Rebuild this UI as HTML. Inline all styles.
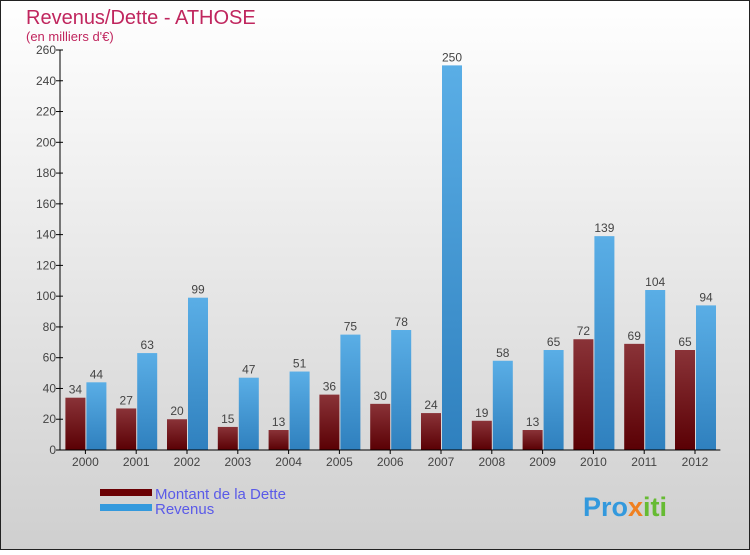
<!DOCTYPE html>
<html><head><meta charset="utf-8"><style>
body{margin:0}
svg text{font-family:"Liberation Sans",sans-serif}
</style></head><body>
<svg width="750" height="550" xmlns="http://www.w3.org/2000/svg">
<defs>
<linearGradient id="bg" x1="0" y1="0" x2="0" y2="1"><stop offset="0" stop-color="#ffffff"/><stop offset="1" stop-color="#cfcfcf"/></linearGradient>
<linearGradient id="gd" x1="0" y1="0" x2="0" y2="1"><stop offset="0" stop-color="#8a3338"/><stop offset="1" stop-color="#5a0004"/></linearGradient>
<linearGradient id="gr" x1="0" y1="0" x2="0" y2="1"><stop offset="0" stop-color="#5aaee6"/><stop offset="1" stop-color="#2f80be"/></linearGradient>
</defs>
<rect x="0.5" y="0.5" width="749" height="549" fill="url(#bg)" stroke="#222"/>
<text x="26" y="24" font-size="20" fill="#c0265e">Revenus/Dette - ATHOSE</text>
<text x="26" y="41" font-size="13" fill="#c0265e">(en milliers d'€)</text>
<g id="plot"></g>
<g>
<rect x="100" y="489" width="52" height="7" fill="#6a0004"/>
<text x="155" y="499" font-size="15" fill="#5a5ae8">Montant de la Dette</text>
<rect x="100" y="504" width="52" height="7" fill="#3399dd"/>
<text x="155" y="514" font-size="15" fill="#5a5ae8">Revenus</text>
</g>
<text x="583" y="516" font-size="27" font-weight="bold" fill="#3399dd">Pro<tspan fill="#f08020">x</tspan><tspan fill="#66bb33">iti</tspan></text>
</svg>
<script>
const years=["2000","2001","2002","2003","2004","2005","2006","2007","2008","2009","2010","2011","2012"];
const dette=[34,27,20,15,13,36,30,24,19,13,72,69,65];
const revenus=[44,63,99,47,51,75,78,250,58,65,139,104,94];
const yTicks=[0,20,40,60,80,100,120,140,160,180,200,220,240,260];
const NS="http://www.w3.org/2000/svg";
const g=document.getElementById('plot');
const x0=60,step=50.8,yMax=260;
const y=v=>450-v*400/yMax;
function mk(t,a,txt){const e=document.createElementNS(NS,t);for(const k in a)e.setAttribute(k,a[k]);if(txt!==undefined)e.textContent=txt;g.appendChild(e);return e;}
yTicks.forEach(t=>{
 const l=mk('line',{x1:x0-4,x2:x0+3,y1:y(t),y2:y(t),stroke:'#000'});
 
 
 const tx=mk('text',{x:x0-4,y:y(t)+4,'font-size':12,'text-anchor':'end',fill:'#444'},t);
 
 
});
years.forEach((yr,i)=>{
 const c=x0+step*(i+0.5);
 const bd=mk('rect',{x:c-20,y:y(dette[i]),width:20,height:450-y(dette[i]),fill:'url(#gd)'});
 
 
 const br=mk('rect',{x:c+1,y:y(revenus[i]),width:20,height:450-y(revenus[i]),fill:'url(#gr)'});
 
 
 const ld=mk('text',{x:c-10,y:y(dette[i])-4,'font-size':12,'text-anchor':'middle',fill:'#444'},dette[i]);
 
 
 const lr=mk('text',{x:c+11,y:y(revenus[i])-4,'font-size':12,'text-anchor':'middle',fill:'#444'},revenus[i]);
 
 
 const tk=mk('line',{x1:c,x2:c,y1:450,y2:454,stroke:'#000'});
 
 
 const xl=mk('text',{x:c,y:466,'font-size':12,'text-anchor':'middle',fill:'#444'},yr);
 
 
});
const ya=mk('line',{x1:x0,x2:x0,y1:50,y2:450,stroke:'#000'});


const xa=mk('line',{x1:x0,x2:x0+step*13,y1:450,y2:450,stroke:'#000'});


</script>
</body></html>
